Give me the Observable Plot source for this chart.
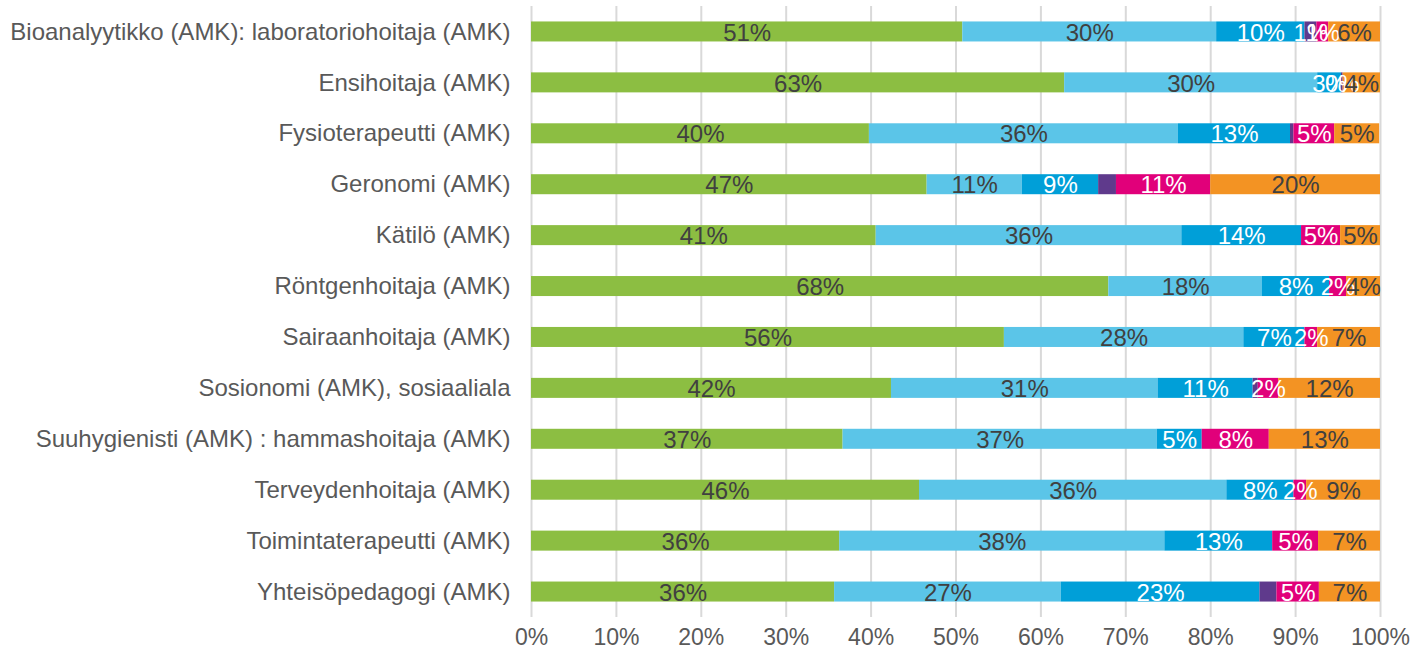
<!DOCTYPE html>
<html>
<head>
<meta charset="utf-8">
<script src="https://cdn.jsdelivr.net/npm/d3@7"></script>
<script src="https://cdn.jsdelivr.net/npm/@observablehq/plot@0.6"></script>
<style>
  html, body { margin: 0; padding: 0; background: #fff; }
  #chart svg { display: block; }
</style>
</head>
<body>
<div id="chart"></div>
<script>
const categories = [
  "Bioanalyytikko (AMK): laboratoriohoitaja (AMK)",
  "Ensihoitaja (AMK)",
  "Fysioterapeutti (AMK)",
  "Geronomi (AMK)",
  "Kätilö (AMK)",
  "Röntgenhoitaja (AMK)",
  "Sairaanhoitaja (AMK)",
  "Sosionomi (AMK), sosiaaliala",
  "Suuhygienisti (AMK) : hammashoitaja (AMK)",
  "Terveydenhoitaja (AMK)",
  "Toimintaterapeutti (AMK)",
  "Yhteisöpedagogi (AMK)"
];
const seriesNames = ["s1", "s2", "s3", "s4", "s5", "s6"];
const seriesColors = ["#8CBE42", "#5BC5E8", "#009FD8", "#5F3A8C", "#E1007A", "#F39323"];
const labelColors = ["#404040", "#404040", "#ffffff", "#ffffff", "#ffffff", "#404040"];

// percentages per series, in category order
const s1 = [50.8, 62.8, 39.8, 46.6, 40.6, 68.0, 55.7, 42.4, 36.7, 45.7, 36.3, 35.7];
const s2 = [29.9, 29.8, 36.4, 11.2, 36.0, 18.1, 28.2, 31.4, 37.0, 36.2, 38.3, 26.7];
const s3 = [10.4, 2.8, 13.2, 9.0, 14.1, 7.9, 7.2, 11.2, 5.3, 7.9, 12.7, 23.4];
const s4 = [1.4, 0.2, 0.4, 2.1, 0, 0, 0, 0.6, 0, 0, 0, 2.0];
const s5 = [1.4, 0, 4.8, 11.1, 4.6, 2.0, 1.5, 2.4, 7.9, 1.5, 5.4, 5.0];
const s6 = [6.1, 4.4, 5.3, 20.0, 4.7, 4.0, 7.4, 12.0, 13.1, 8.7, 7.3, 7.2];
// segments whose data label is not shown in the original: [series index, category]
const hiddenLabels = [
  [3, "Fysioterapeutti (AMK)"],
  [3, "Geronomi (AMK)"],
  [3, "Sosionomi (AMK), sosiaaliala"],
  [3, "Yhteisöpedagogi (AMK)"]
];

const xTicks = [0, 10, 20, 30, 40, 50, 60, 70, 80, 90, 100];

const seriesValues = [s1, s2, s3, s4, s5, s6];
const data = [];
seriesValues.forEach((vals, si) => {
  vals.forEach((v, ci) => {
    const hidden = v <= 0 || hiddenLabels.some(([s, c]) => s === si && c === categories[ci]);
    data.push({
      cat: categories[ci],
      series: seriesNames[si],
      si,
      value: v,
      label: hidden ? "" : Math.round(v) + "%"
    });
  });
});

const chart = Plot.plot({
  width: 1413,
  height: 655,
  marginLeft: 531,
  marginRight: 33,
  marginTop: 6,
  marginBottom: 38,
  style: { fontFamily: "'Liberation Sans', Arial, sans-serif", fontSize: "24px", background: "#fff" },
  x: { domain: [0, 100], ticks: xTicks, tickFormat: d => d + "%", label: null },
  y: { domain: categories, paddingInner: 0.607, paddingOuter: 0.3035, round: false, label: null },
  color: { domain: seriesNames, range: seriesColors },
  marks: [
    Plot.ruleX(xTicks, { stroke: "#d9d9d9", strokeWidth: 2 }),
    Plot.barX(data, Plot.stackX({ x: "value", y: "cat", fill: "series", order: seriesNames })),
    Plot.text(data, Plot.stackX({
      x: "value", y: "cat", text: "label", order: seriesNames,
      fill: d => labelColors[d.si], fontSize: 24, dy: 1
    })),
    Plot.axisX({ ticks: xTicks, tickFormat: d => d + "%", tickSize: 0, tickPadding: 11, fontSize: 23, fill: "#595959", label: null }),
    Plot.axisY({ tickSize: 0, tickPadding: 21, fontSize: 24, fill: "#595959", label: null })
  ]
});
document.getElementById("chart").appendChild(chart);
</script>
</body>
</html>
